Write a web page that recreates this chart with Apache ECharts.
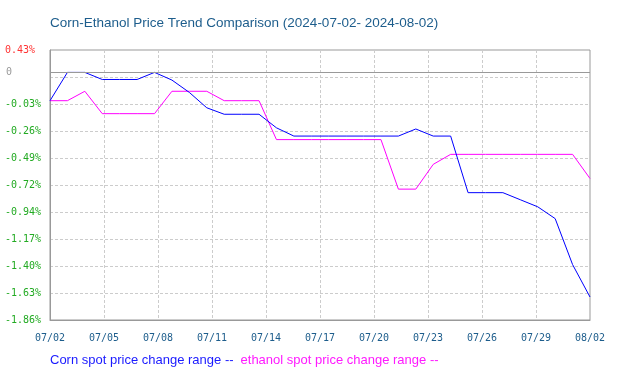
<!DOCTYPE html>
<html>
<head>
<meta charset="utf-8">
<script src="https://cdn.jsdelivr.net/npm/echarts@6/dist/echarts.min.js"></script>
<style>html,body{margin:0;padding:0;background:#fff}#c{width:618px;height:376px}</style>
</head>
<body>
<div id="c"></div>
<script>
// Dates (daily, 07/02 .. 08/02)
var dates = ['07/02','07/03','07/04','07/05','07/06','07/07','07/08','07/09','07/10','07/11','07/12','07/13','07/14','07/15','07/16','07/17','07/18','07/19','07/20','07/21','07/22','07/23','07/24','07/25','07/26','07/27','07/28','07/29','07/30','07/31','08/01','08/02'];
// Corn spot price change range (%)
var cornValues = [0, 0.24, 0.24, 0.18, 0.18, 0.18, 0.24, 0.175, 0.07, -0.06, -0.115, -0.115, -0.115, -0.23, -0.30, -0.30, -0.30, -0.30, -0.30, -0.30, -0.30, -0.24, -0.30, -0.30, -0.78, -0.78, -0.78, -0.84, -0.90, -1.00, -1.39, -1.665];
// Ethanol spot price change range (%)
var ethanolValues = [0, 0, 0.08, -0.11, -0.11, -0.11, -0.11, 0.08, 0.08, 0.08, 0.0, 0.0, 0.0, -0.33, -0.33, -0.33, -0.33, -0.33, -0.33, -0.33, -0.75, -0.75, -0.54, -0.455, -0.455, -0.455, -0.455, -0.455, -0.455, -0.455, -0.455, -0.66];
// Axis tick labels
var xTickLabels = ['07/02','07/05','07/08','07/11','07/14','07/17','07/20','07/23','07/26','07/29','08/02'];
var yTickLabels = ['-1.86%','-1.63%','-1.40%','-1.17%','-0.94%','-0.72%','-0.49%','-0.26%','-0.03%','','0.43%'];
var yMin = -1.86, yMax = 0.43, yStep = 0.229;
var zeroLineValue = 0.243;
var seriesNames = ['Corn spot price change range', 'ethanol spot price change range'];
var titleText = 'Corn-Ethanol Price Trend Comparison (2024-07-02- 2024-08-02)';

var chart = echarts.init(document.getElementById('c'), null, {renderer: 'canvas'});
var mono = '"DejaVu Sans Mono", monospace';
chart.setOption({
  animation: false,
  backgroundColor: '#fff',
  title: {
    text: titleText, left: 45, top: 11,
    textStyle: {fontFamily: '"Liberation Sans", Arial, sans-serif', fontSize: 13.5, fontWeight: 'normal', color: '#1d5d8c'}
  },
  legend: {
    left: 40, top: 349, icon: 'rect', itemWidth: 0, itemHeight: 0, itemGap: 2,
    formatter: function (n) { return n + ' --'; },
    textStyle: {fontFamily: '"Liberation Sans", Arial, sans-serif', fontSize: 13},
    data: [
      {name: seriesNames[0], textStyle: {color: '#1a1aff'}},
      {name: seriesNames[1], textStyle: {color: '#ff1aff'}}
    ]
  },
  grid: {left: 50, right: 28, top: 50, bottom: 56, show: true, borderColor: '#999', borderWidth: 1, containLabel: false},
  xAxis: {
    type: 'value', min: 0, max: dates.length - 1, interval: (dates.length - 1) / 10,
    axisLine: {show: true, onZero: false, lineStyle: {color: '#999'}}, axisTick: {show: false},
    splitLine: {show: true, showMinLine: false, showMaxLine: false, lineStyle: {color: '#ccc', type: [3, 2]}},
    axisLabel: {
      margin: 13, fontFamily: mono, fontSize: 10, color: '#1d5d8c',
      formatter: function (v, i) { return xTickLabels[i] !== undefined ? xTickLabels[i] : ''; }
    }
  },
  yAxis: {
    type: 'value', min: yMin, max: yMax, interval: yStep,
    axisLine: {show: true, onZero: false, lineStyle: {color: '#999'}}, axisTick: {show: false},
    splitLine: {show: true, showMinLine: false, showMaxLine: false, lineStyle: {color: '#ccc', type: [3, 2]}},
    axisLabel: {
      margin: 45, align: 'left', fontFamily: mono, fontSize: 10,
      color: function (v, i) { return i === yTickLabels.length - 1 ? '#ff3333' : '#22aa22'; },
      formatter: function (v, i) { return yTickLabels[i] !== undefined ? yTickLabels[i] : ''; }
    }
  },
  series: [
    {
      name: seriesNames[0], type: 'line', symbol: 'none', z: 3,
      lineStyle: {color: '#0000ff', width: 1}, itemStyle: {color: '#0000ff'},
      data: cornValues.map(function (v, i) { return [i, v]; }),
      markLine: {
        silent: true, symbol: 'none',
        lineStyle: {color: '#999', type: 'solid', width: 1},
        label: {show: true, position: 'start', distance: 38, formatter: '0', fontFamily: mono, fontSize: 10, color: '#999'},
        data: [{yAxis: zeroLineValue}]
      }
    },
    {
      name: seriesNames[1], type: 'line', symbol: 'none', z: 2,
      lineStyle: {color: '#ff00ff', width: 1}, itemStyle: {color: '#ff00ff'},
      data: ethanolValues.map(function (v, i) { return [i, v]; })
    }
  ]
});
</script>
</body>
</html>
